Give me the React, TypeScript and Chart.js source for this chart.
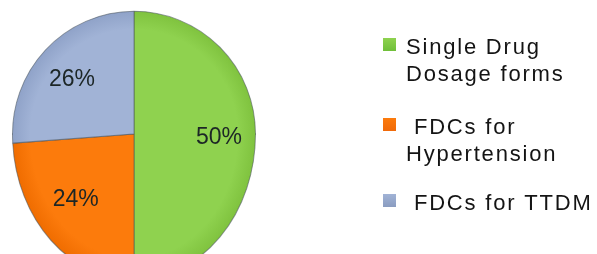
import React, { useEffect, useRef } from "react";
import { Chart, registerables } from "chart.js";

Chart.register(...registerables);

const categories: string[][] = [
  ["Single Drug", "Dosage forms"],
  [" FDCs for", "Hypertension"],
  [" FDCs for TTDM"],
];
const values = [50, 24, 26];
const valueLabels = ["50%", "24%", "26%"];
const baseColors = ["#8fd24f", "#fc7b0c", "#a1b3d6"];
const edgeColors = ["#7fc23e", "#ef6c00", "#8fa2c8"];
const markerColors = ["#6fbf3a", "#f06a0a", "#8a9cc0"];

// vertical stretch of the upper / lower half of the pie (picture is slightly tilted)
const TOP_STRETCH = 1.01;
const BOTTOM_STRETCH = 1.2;

const warp = {
  id: "warp",
  beforeDatasetsDraw(chart: any) {
    const ctx = chart.ctx;
    const meta = chart.getDatasetMeta(0);
    if (!meta.data.length) return;
    const cy = meta.data[0].y;
    const halves = [
      { y0: 0, y1: cy + 0.5, s: TOP_STRETCH },
      { y0: cy - 0.5, y1: chart.height, s: BOTTOM_STRETCH },
    ];
    halves.forEach((h) => {
      ctx.save();
      ctx.beginPath();
      ctx.rect(0, h.y0, chart.width, h.y1 - h.y0);
      ctx.clip();
      ctx.translate(0, cy);
      ctx.scale(1, h.s);
      ctx.translate(0, -cy);
      meta.controller.draw();
      ctx.restore();
    });
    return false;
  },
};

const pieLabels = {
  id: "pieLabels",
  afterDraw(chart: any) {
    const ctx = chart.ctx;
    const meta = chart.getDatasetMeta(0);
    ctx.save();
    ctx.font = "23px 'Liberation Sans', Arial, sans-serif";
    ctx.fillStyle = "#1c2626";
    ctx.textAlign = "center";
    ctx.textBaseline = "middle";
    meta.data.forEach((arc: any, i: number) => {
      const { x, y, startAngle, endAngle, outerRadius } = arc.getProps(
        ["x", "y", "startAngle", "endAngle", "outerRadius"],
        true
      );
      const mid = (startAngle + endAngle) / 2;
      const d = outerRadius * 0.7;
      ctx.fillText(valueLabels[i], x + Math.cos(mid) * d, y + Math.sin(mid) * d + 4);
    });
    ctx.restore();
  },
};

const sideLegend = {
  id: "sideLegend",
  afterDraw(chart: any, _args: any, opts: any) {
    const ctx = chart.ctx;
    const labels = chart.data.labels as string[][];
    ctx.save();
    ctx.font = "22px 'Liberation Sans', Arial, sans-serif";
    (ctx as any).letterSpacing = "1.8px";
    ctx.textAlign = "left";
    ctx.textBaseline = "alphabetic";
    labels.forEach((lines, i) => {
      const base = opts.baselines[i];
      const g = ctx.createLinearGradient(0, base - 16, 0, base - 3);
      g.addColorStop(0, baseColors[i]);
      g.addColorStop(1, markerColors[i]);
      ctx.fillStyle = g;
      ctx.fillRect(opts.markerX, base - 16, 13, 13);
      ctx.fillStyle = "#141414";
      lines.forEach((line, j) => {
        ctx.fillText(line, opts.textX, base + j * opts.lineHeight);
      });
    });
    ctx.restore();
  },
};

export default function App() {
  const ref = useRef<HTMLCanvasElement | null>(null);
  useEffect(() => {
    if (!ref.current) return;
    const chart = new Chart(ref.current, {
      type: "pie",
      data: {
        labels: categories as any,
        datasets: [
          {
            data: values,
            backgroundColor: (c: any) => {
              const ch = c.chart;
              const area = ch.chartArea;
              if (!area) return baseColors[c.dataIndex];
              const cx = (area.left + area.right) / 2;
              const cy = (area.top + area.bottom) / 2;
              const r = Math.min(area.width, area.height) / 2;
              const g = ch.ctx.createRadialGradient(cx, cy, 0, cx, cy, r);
              g.addColorStop(0, baseColors[c.dataIndex]);
              g.addColorStop(0.85, baseColors[c.dataIndex]);
              g.addColorStop(1, edgeColors[c.dataIndex]);
              return g;
            },
            borderColor: "rgba(70,80,90,0.55)",
            borderWidth: 1,
          },
        ],
      },
      options: {
        animation: false,
        responsive: false,
        maintainAspectRatio: false,
        layout: { padding: { left: 12, top: 12, right: 341, bottom: 14 } },
        plugins: {
          legend: { display: false },
          tooltip: { enabled: false },
          sideLegend: { markerX: 383, textX: 406, lineHeight: 27, baselines: [54, 134, 210] },
        } as any,
      },
      plugins: [warp, pieLabels, sideLegend],
    });
    return () => chart.destroy();
  }, []);
  return (
    <div style={{ position: "absolute", left: 0, top: 0, width: 597, height: 254, overflow: "hidden", background: "#fff" }}>
      <canvas ref={ref} width={597} height={270} style={{ display: "block", width: 597, height: 270 }} />
    </div>
  );
}
